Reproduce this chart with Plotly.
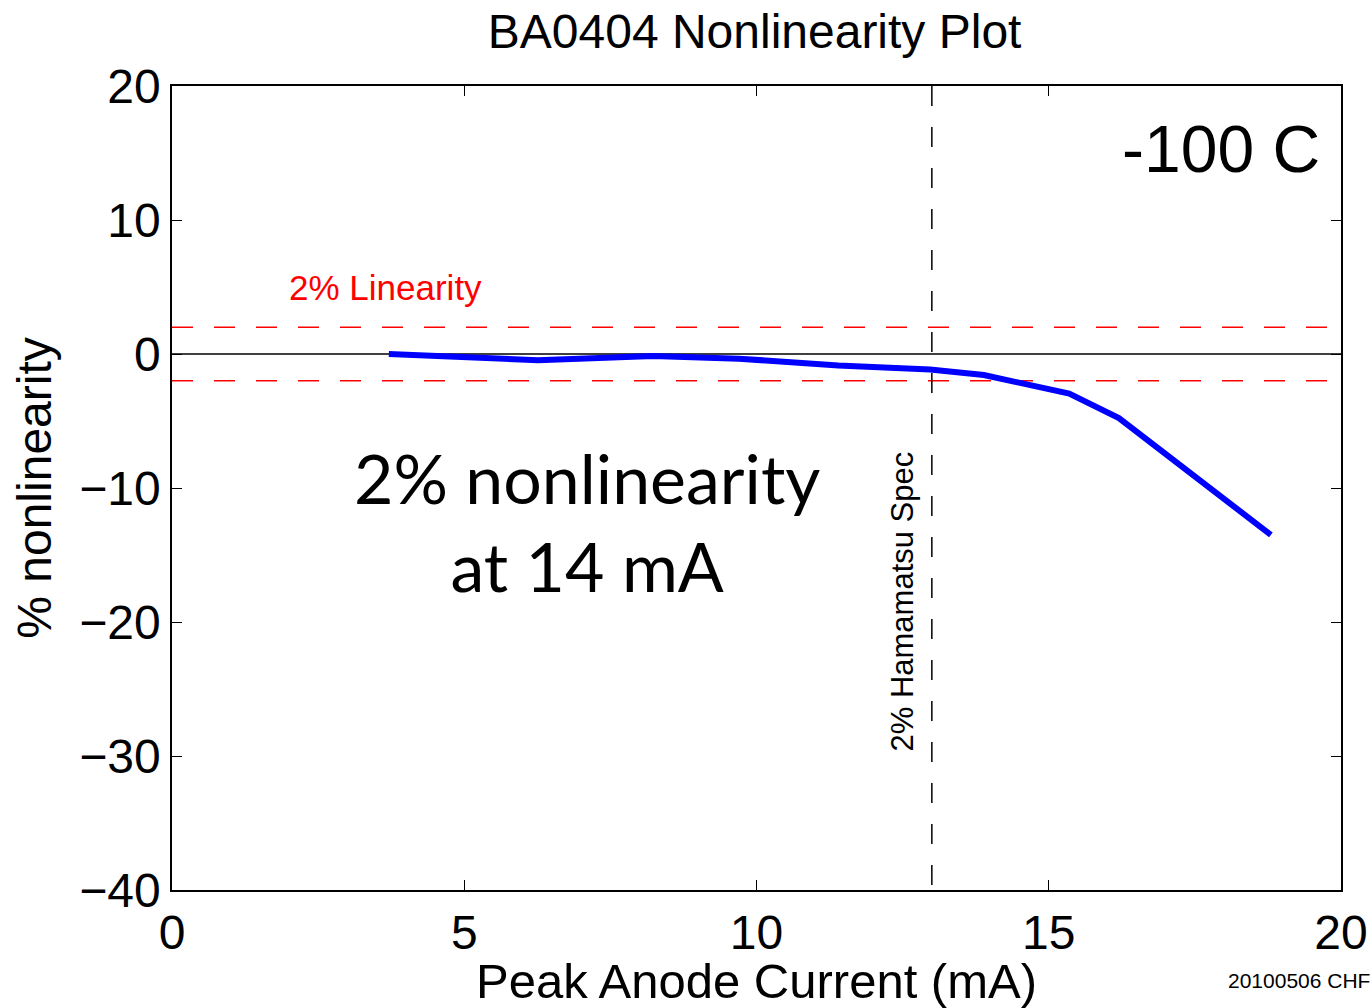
import plotly.graph_objects as go

current_mA = [3.71, 6.26, 8.23, 9.7, 11.4, 12.97, 13.89, 15.35, 16.2, 18.8]
nonlin_pct = [0.0, -0.47, -0.15, -0.35, -0.85, -1.16, -1.57, -2.96, -4.78, -13.5]

x_ticks = [0, 5, 10, 15, 20]
y_ticks = [20, 10, 0, -10, -20, -30, -40]
spec_x = 13
lin_limits = [2, -2]

fig = go.Figure()
fig.add_trace(go.Scatter(x=[0, 20], y=[0, 0], mode="lines",
                         line=dict(color="black", width=1.5), showlegend=False, hoverinfo="skip"))
for v in lin_limits:
    fig.add_trace(go.Scatter(x=[0, 20], y=[v, v], mode="lines",
                             line=dict(color="red", width=1.5, dash="21px,21px"),
                             showlegend=False, hoverinfo="skip"))
fig.add_trace(go.Scatter(x=[spec_x, spec_x], y=[20, -40], mode="lines",
                         line=dict(color="black", width=1.5, dash="20px,21px"),
                         showlegend=False, hoverinfo="skip"))
fig.add_trace(go.Scatter(x=current_mA, y=nonlin_pct, mode="lines",
                         line=dict(color="#0000ff", width=6), showlegend=False))

helv = "Liberation Sans, Arial, sans-serif"
fig.update_layout(
    width=1372, height=1008,
    margin=dict(l=172, r=31, t=86, b=118),
    plot_bgcolor="white", paper_bgcolor="white",
    title=dict(text="BA0404 Nonlinearity Plot", x=0.55, xanchor="center", y=0.969, yanchor="middle",
               font=dict(family=helv, size=48, color="black")),
    xaxis=dict(range=[0, 20], tickvals=x_ticks, ticks="inside", ticklen=10, tickcolor="black",
               showline=True, linecolor="black", linewidth=1.5, mirror="ticks", showgrid=False,
               zeroline=False, automargin=False, tickfont=dict(family=helv, size=48, color="black"),
               title=dict(text="Peak Anode Current (mA)", font=dict(family=helv, size=49, color="black"),
                          standoff=0)),
    yaxis=dict(range=[-40, 20], tickvals=y_ticks, ticks="inside", ticklen=10, tickcolor="black",
               showline=True, linecolor="black", linewidth=1.5, mirror="ticks", showgrid=False,
               zeroline=False, automargin=False, tickfont=dict(family=helv, size=48, color="black"),
               title=dict(text="% nonlinearity", font=dict(family=helv, size=48, color="black"),
                          standoff=12)),
)
fig.add_annotation(x=1.97, y=5.0, text="2% Linearity", showarrow=False, xanchor="left",
                   font=dict(family=helv, size=35, color="red"))
fig.add_annotation(x=19.67, y=15.3, text="-100 C", showarrow=False, xanchor="right",
                   font=dict(family=helv, size=66, color="black"))
fig.add_annotation(x=7.1, y=-12.5, text="2% nonlinearity<br>at 14 mA", showarrow=False,
                   font=dict(family="Lato, sans-serif", size=68, color="black"))
fig.add_annotation(x=12.5, y=-18.5, text="2% Hamamatsu Spec", showarrow=False, textangle=-90,
                   font=dict(family=helv, size=31, color="black"))
fig.add_annotation(x=1.0265, y=-0.112, xref="paper", yref="paper", text="20100506 CHF", showarrow=False,
                   xanchor="right", yanchor="middle", font=dict(family=helv, size=21, color="black"))

fig.write_html("out.html")
